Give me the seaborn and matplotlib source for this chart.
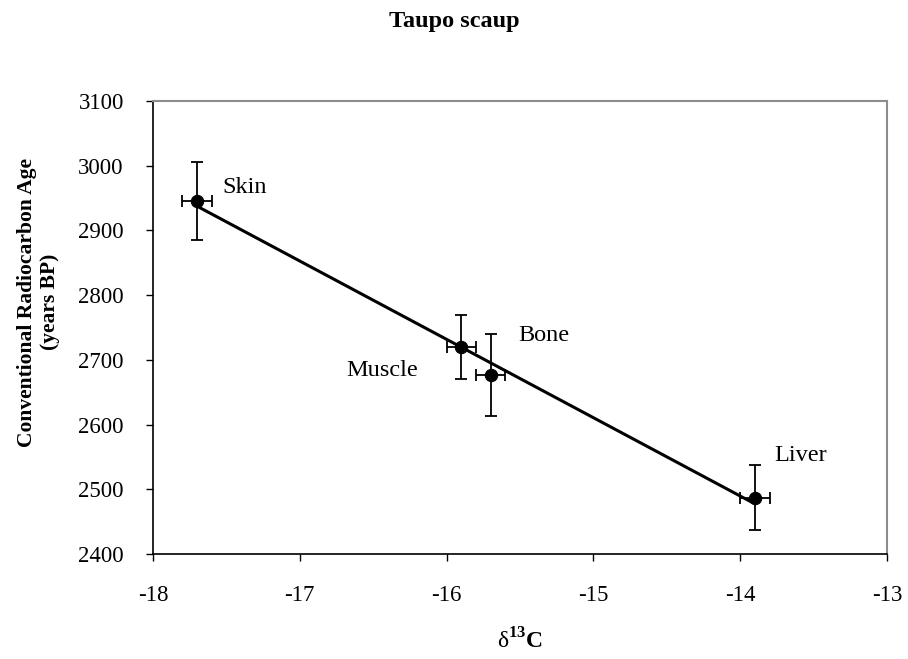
import numpy as np
import pandas as pd
import matplotlib
matplotlib.use("Agg")
import matplotlib.pyplot as plt
import seaborn as sns

# data
tissues = ["Skin", "Muscle", "Bone", "Liver"]
d13c = [-17.7, -15.9, -15.7, -13.9]
age_bp = [2946, 2720, 2677, 2487]
age_err = [60, 50, 63, 50]
d13c_err = [0.1, 0.1, 0.1, 0.1]

# label offsets (data units) relative to each point
label_dx = [0.17, -0.78, 0.19, 0.13]
label_dy = [21, -36, 60, 66]

sns.set_style("white")
plt.rcParams["font.family"] = ["Liberation Serif", "DejaVu Serif"]
plt.rcParams["mathtext.fontset"] = "custom"
plt.rcParams["mathtext.rm"] = "Liberation Serif"
plt.rcParams["mathtext.bf"] = "Liberation Serif:bold"
for key in ["text.color", "axes.labelcolor", "xtick.color", "ytick.color"]:
    plt.rcParams[key] = "black"

df = pd.DataFrame({"tissue": tissues, "d13c": d13c, "age": age_bp})

fig = plt.figure(figsize=(9.08, 6.59), dpi=100)
ax = fig.add_axes([0.1685, 0.1593, 0.8084, 0.6874])

# fitted trend line
sns.regplot(data=df, x="d13c", y="age", ax=ax, scatter=False, ci=None,
            truncate=True, line_kws={"color": "black", "lw": 2.2})
ax.errorbar(d13c, age_bp, yerr=age_err, xerr=d13c_err, fmt="none",
            ecolor="black", elinewidth=1.3, capsize=4.5, capthick=1.3, zorder=3)
sns.scatterplot(data=df, x="d13c", y="age", ax=ax, color="black", s=80,
                edgecolor="black", zorder=4)

for t, x, y, dx, dy in zip(tissues, d13c, age_bp, label_dx, label_dy):
    ax.text(x + dx, y + dy, t, fontsize=17.5, ha="left", va="center")

ax.set_xlim(-18, -13)
ax.set_ylim(2400, 3100)
ax.set_xticks(np.arange(-18, -12.5, 1))
ax.set_yticks(np.arange(2400, 3101, 100))
ax.set_xticklabels([f"-{abs(v):d}" for v in range(18, 12, -1)])
ax.tick_params(axis="both", labelsize=16.5, direction="out", length=5,
               width=1, color="black")
ax.tick_params(axis="x", bottom=True, pad=17)
ax.tick_params(axis="y", left=True, pad=16)

for side in ["left", "bottom"]:
    ax.spines[side].set_color("black")
    ax.spines[side].set_linewidth(1.2)
for side in ["top", "right"]:
    ax.spines[side].set_color("#8c8c8c")
    ax.spines[side].set_linewidth(1.5)

ax.set_xlabel(r"$\mathrm{\delta}^{\mathbf{13}}\mathbf{C}$", fontsize=17, labelpad=16)
ax.set_ylabel("Conventional Radiocarbon Age\n(years BP)", fontsize=15.5,
              fontweight="bold")
ax.yaxis.set_label_coords(-0.127, 0.556)
fig.text(0.5, 0.967, "Taupo scaup", ha="center", va="center", fontsize=17.5,
         fontweight="bold")

fig.savefig("out.png", dpi=100)
